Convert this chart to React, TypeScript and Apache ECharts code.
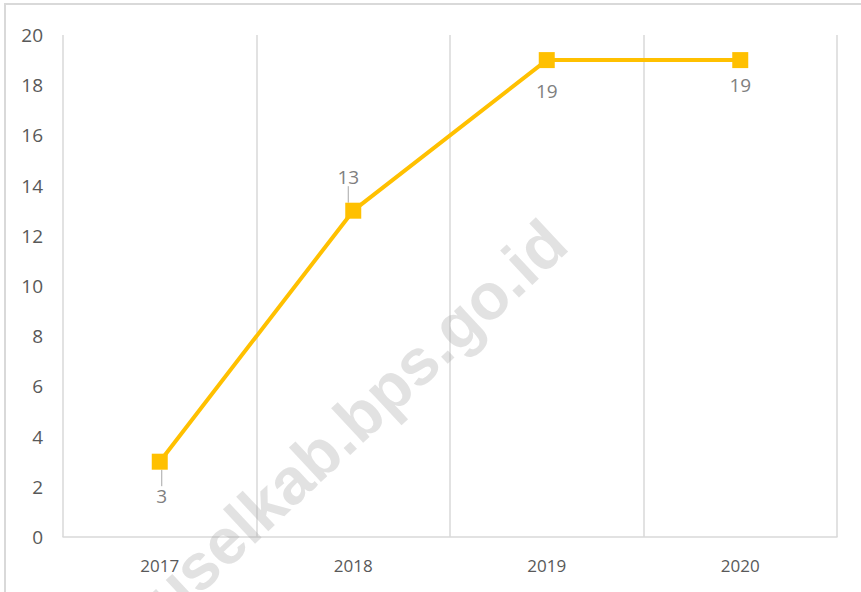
import React, { useEffect, useRef } from "react";
import * as echarts from "echarts";

const categories = ["2017", "2018", "2019", "2020"];
const values = [3, 13, 19, 19];
const yTicks = { min: 0, max: 20, interval: 2 };
const watermark = "okuselkab.bps.go.id";

// label offsets (styling), relative to each point
const labelOffsets = [
  { dx: 2, dy: 34 },
  { dx: -5, dy: -34 },
  { dx: 0, dy: 31 },
  { dx: 0, dy: 25 },
];
const showLeader = [true, true, false, false];

export default function App() {
  const ref = useRef<HTMLDivElement>(null);
  useEffect(() => {
    if (!ref.current) return;
    const chart = echarts.init(ref.current, null, { renderer: "svg" });
    chart.setOption({
      animation: false,
      backgroundColor: "#ffffff",
      grid: { left: 63, right: 24, top: 35, bottom: 55, containLabel: false },
      xAxis: {
        type: "category",
        data: categories,
        boundaryGap: true,
        axisLine: { show: true, lineStyle: { color: "#d9d9d9", width: 1.5 } },
        axisTick: { show: false },
        splitLine: { show: true, lineStyle: { color: "#d9d9d9", width: 1.5 } },
        axisLabel: {
          color: "#595959",
          fontFamily: "Open Sans",
          fontSize: 17,
          margin: 20,
        },
      },
      yAxis: {
        type: "value",
        min: yTicks.min,
        max: yTicks.max,
        interval: yTicks.interval,
        axisLine: { show: false },
        axisTick: { show: false },
        splitLine: { show: false },
        axisLabel: {
          color: "#595959",
          fontFamily: "Open Sans",
          fontSize: 19,
          margin: 20,
        },
      },
      series: [
        {
          type: "line",
          data: values.map((v, i) => ({
            value: v,
            labelLine: { show: showLeader[i] },
          })),
          symbol: "rect",
          symbolSize: 16,
          lineStyle: { color: "#FFC000", width: 4 },
          itemStyle: { color: "#FFC000" },
          label: {
            show: true,
            position: "inside",
            color: "#7f7f7f",
            fontFamily: "Open Sans",
            fontSize: 19,
          },
          labelLayout: (p: any) => labelOffsets[p.dataIndex],
          labelLine: {
            show: true,
            lineStyle: { color: "#a6a6a6", width: 1 },
          },
          z: 3,
        },
      ],
      graphic: [
        {
          type: "rect",
          shape: { x: 5, y: 4, width: 900, height: 700 },
          style: { fill: "none", stroke: "#d9d9d9", lineWidth: 2 },
          silent: true,
          z: -10,
        },
        {
          type: "text",
          x: 578,
          y: 256,
          rotation: (43 * Math.PI) / 180,
          style: {
            text: watermark,
            fill: "rgba(160,160,160,0.3)",
            font: "bold 65px 'Liberation Sans', Arial, sans-serif",
            textAlign: "right",
            textVerticalAlign: "bottom",
          },
          silent: true,
          z: 100,
        },
      ],
    });
    return () => chart.dispose();
  }, []);
  return (
    <div
      ref={ref}
      style={{ position: "fixed", left: 0, top: 0, width: 861, height: 592 }}
    />
  );
}
